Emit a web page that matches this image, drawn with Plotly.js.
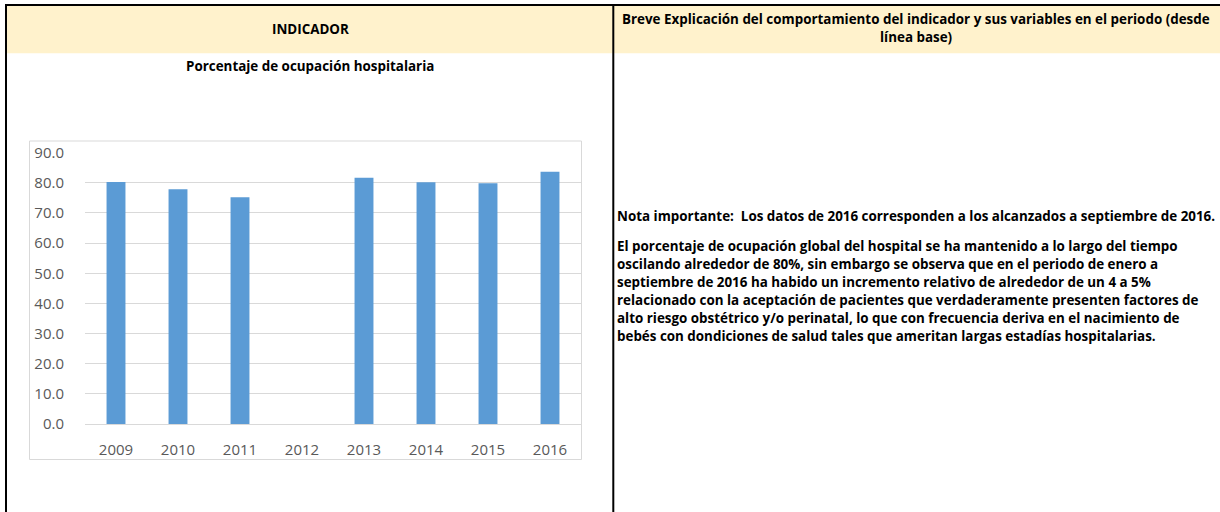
<!DOCTYPE html>
<html>
<head>
<meta charset="utf-8">
<script src="https://cdn.plot.ly/plotly-3.0.1.min.js"></script>
<style>
  html, body { margin: 0; padding: 0; background: #ffffff; }
  #chart { width: 1220px; height: 512px; }
</style>
</head>
<body>
<div id="chart"></div>
<script>
// ---- data ----
var years = ["2009", "2010", "2011", "2012", "2013", "2014", "2015", "2016"];
var occupancy = [80.3, 77.9, 75.2, null, 81.7, 80.2, 79.9, 83.7];

// ---- texts ----
var headerLeft = "INDICADOR";
var headerRight = ["Breve Explicación del comportamiento del indicador y sus variables en el periodo (desde", "línea base)"];
var chartTitle = "Porcentaje de ocupación hospitalaria";
var noteLine = "Nota importante:  Los datos de 2016 corresponden a los alcanzados a septiembre de 2016.";
var paragraph = [
  "El porcentaje de ocupación global del hospital se ha mantenido a lo largo del tiempo",
  "oscilando alrededor de 80%, sin embargo se observa que en el periodo de enero a",
  "septiembre de 2016 ha habido un incremento relativo de alrededor de un 4 a 5%",
  "relacionado con la aceptación de pacientes que verdaderamente presenten factores de",
  "alto riesgo obstétrico y/o perinatal, lo que con frecuencia deriva en el nacimiento de",
  "bebés con dondiciones de salud tales que ameritan largas estadías hospitalarias."
];

// ---- helpers: pixel -> paper ----
var W = 1220, H = 512;
function px(x) { return x / W; }
function py(y) { return 1 - y / H; }

var FONT = "Open Sans, Noto Sans, sans-serif";
var boldFont = { family: FONT, size: 13.4, color: "#000000", weight: "bold" };

var shapes = [
  // header band
  { type: "rect", xref: "paper", yref: "paper", x0: px(7), x1: px(1220), y0: py(53.3), y1: py(6), fillcolor: "#FFF2CC", line: { width: 0 }, layer: "below" },
  // chart frame
  { type: "rect", xref: "paper", yref: "paper", x0: px(29.5), x1: px(581.5), y0: py(459.5), y1: py(141), fillcolor: "rgba(0,0,0,0)", line: { color: "#D9D9D9", width: 1 }, layer: "below" },
  // table borders
  { type: "line", xref: "paper", yref: "paper", x0: px(5), x1: px(1220), y0: py(5), y1: py(5), line: { color: "#000000", width: 2 } },
  { type: "line", xref: "paper", yref: "paper", x0: px(6), x1: px(6), y0: py(4), y1: py(512), line: { color: "#000000", width: 2 } },
  { type: "line", xref: "paper", yref: "paper", x0: px(613.3), x1: px(613.3), y0: py(4), y1: py(512), line: { color: "#000000", width: 2 } }
];

var annotations = [
  { text: "<b>" + headerLeft + "</b>", xref: "paper", yref: "paper", x: px(310), y: py(29), xanchor: "center", yanchor: "middle", showarrow: false, font: boldFont },
  { text: "<b>" + headerRight[0] + "</b>", xref: "paper", yref: "paper", x: px(916), y: py(19), xanchor: "center", yanchor: "middle", showarrow: false, font: boldFont },
  { text: "<b>" + headerRight[1] + "</b>", xref: "paper", yref: "paper", x: px(916), y: py(37), xanchor: "center", yanchor: "middle", showarrow: false, font: boldFont },
  { text: "<b>" + chartTitle + "</b>", xref: "paper", yref: "paper", x: px(310), y: py(66), xanchor: "center", yanchor: "middle", showarrow: false, font: boldFont },
  { text: "<b>" + noteLine + "</b>", xref: "paper", yref: "paper", x: px(615), y: py(216), xanchor: "left", yanchor: "middle", showarrow: false, font: boldFont }
];
paragraph.forEach(function (line, i) {
  annotations.push({ text: "<b>" + line + "</b>", xref: "paper", yref: "paper", x: px(615), y: py(246 + i * 18), xanchor: "left", yanchor: "middle", showarrow: false, font: boldFont });
});

var trace = {
  type: "bar",
  x: years,
  y: occupancy,
  marker: { color: "#5B9BD5" },
  hoverinfo: "x+y"
};

var layout = {
  width: W, height: H,
  margin: { l: 0, r: 0, t: 0, b: 0, pad: 0 },
  paper_bgcolor: "#ffffff",
  plot_bgcolor: "rgba(0,0,0,0)",
  showlegend: false,
  bargap: 0.695,
  xaxis: {
    type: "category",
    domain: [px(85), px(581)],
    range: [-0.5, 7.5],
    showgrid: false, showline: false, zeroline: false,
    ticks: "outside", ticklen: 12, tickcolor: "rgba(0,0,0,0)",
    tickfont: { family: FONT, size: 15, color: "#595959" }
  },
  yaxis: {
    domain: [py(424), py(152.7)],
    range: [0, 90],
    dtick: 10, tick0: 0,
    tickformat: ".1f",
    showgrid: true, gridcolor: "#D9D9D9", gridwidth: 1,
    zeroline: true, zerolinecolor: "#D9D9D9", zerolinewidth: 1,
    showline: false,
    ticks: "outside", ticklen: 17, tickcolor: "rgba(0,0,0,0)",
    tickfont: { family: FONT, size: 15, color: "#595959" }
  },
  shapes: shapes,
  annotations: annotations
};

Plotly.newPlot("chart", [trace], layout, { displayModeBar: false, staticPlot: true });
</script>
</body>
</html>
